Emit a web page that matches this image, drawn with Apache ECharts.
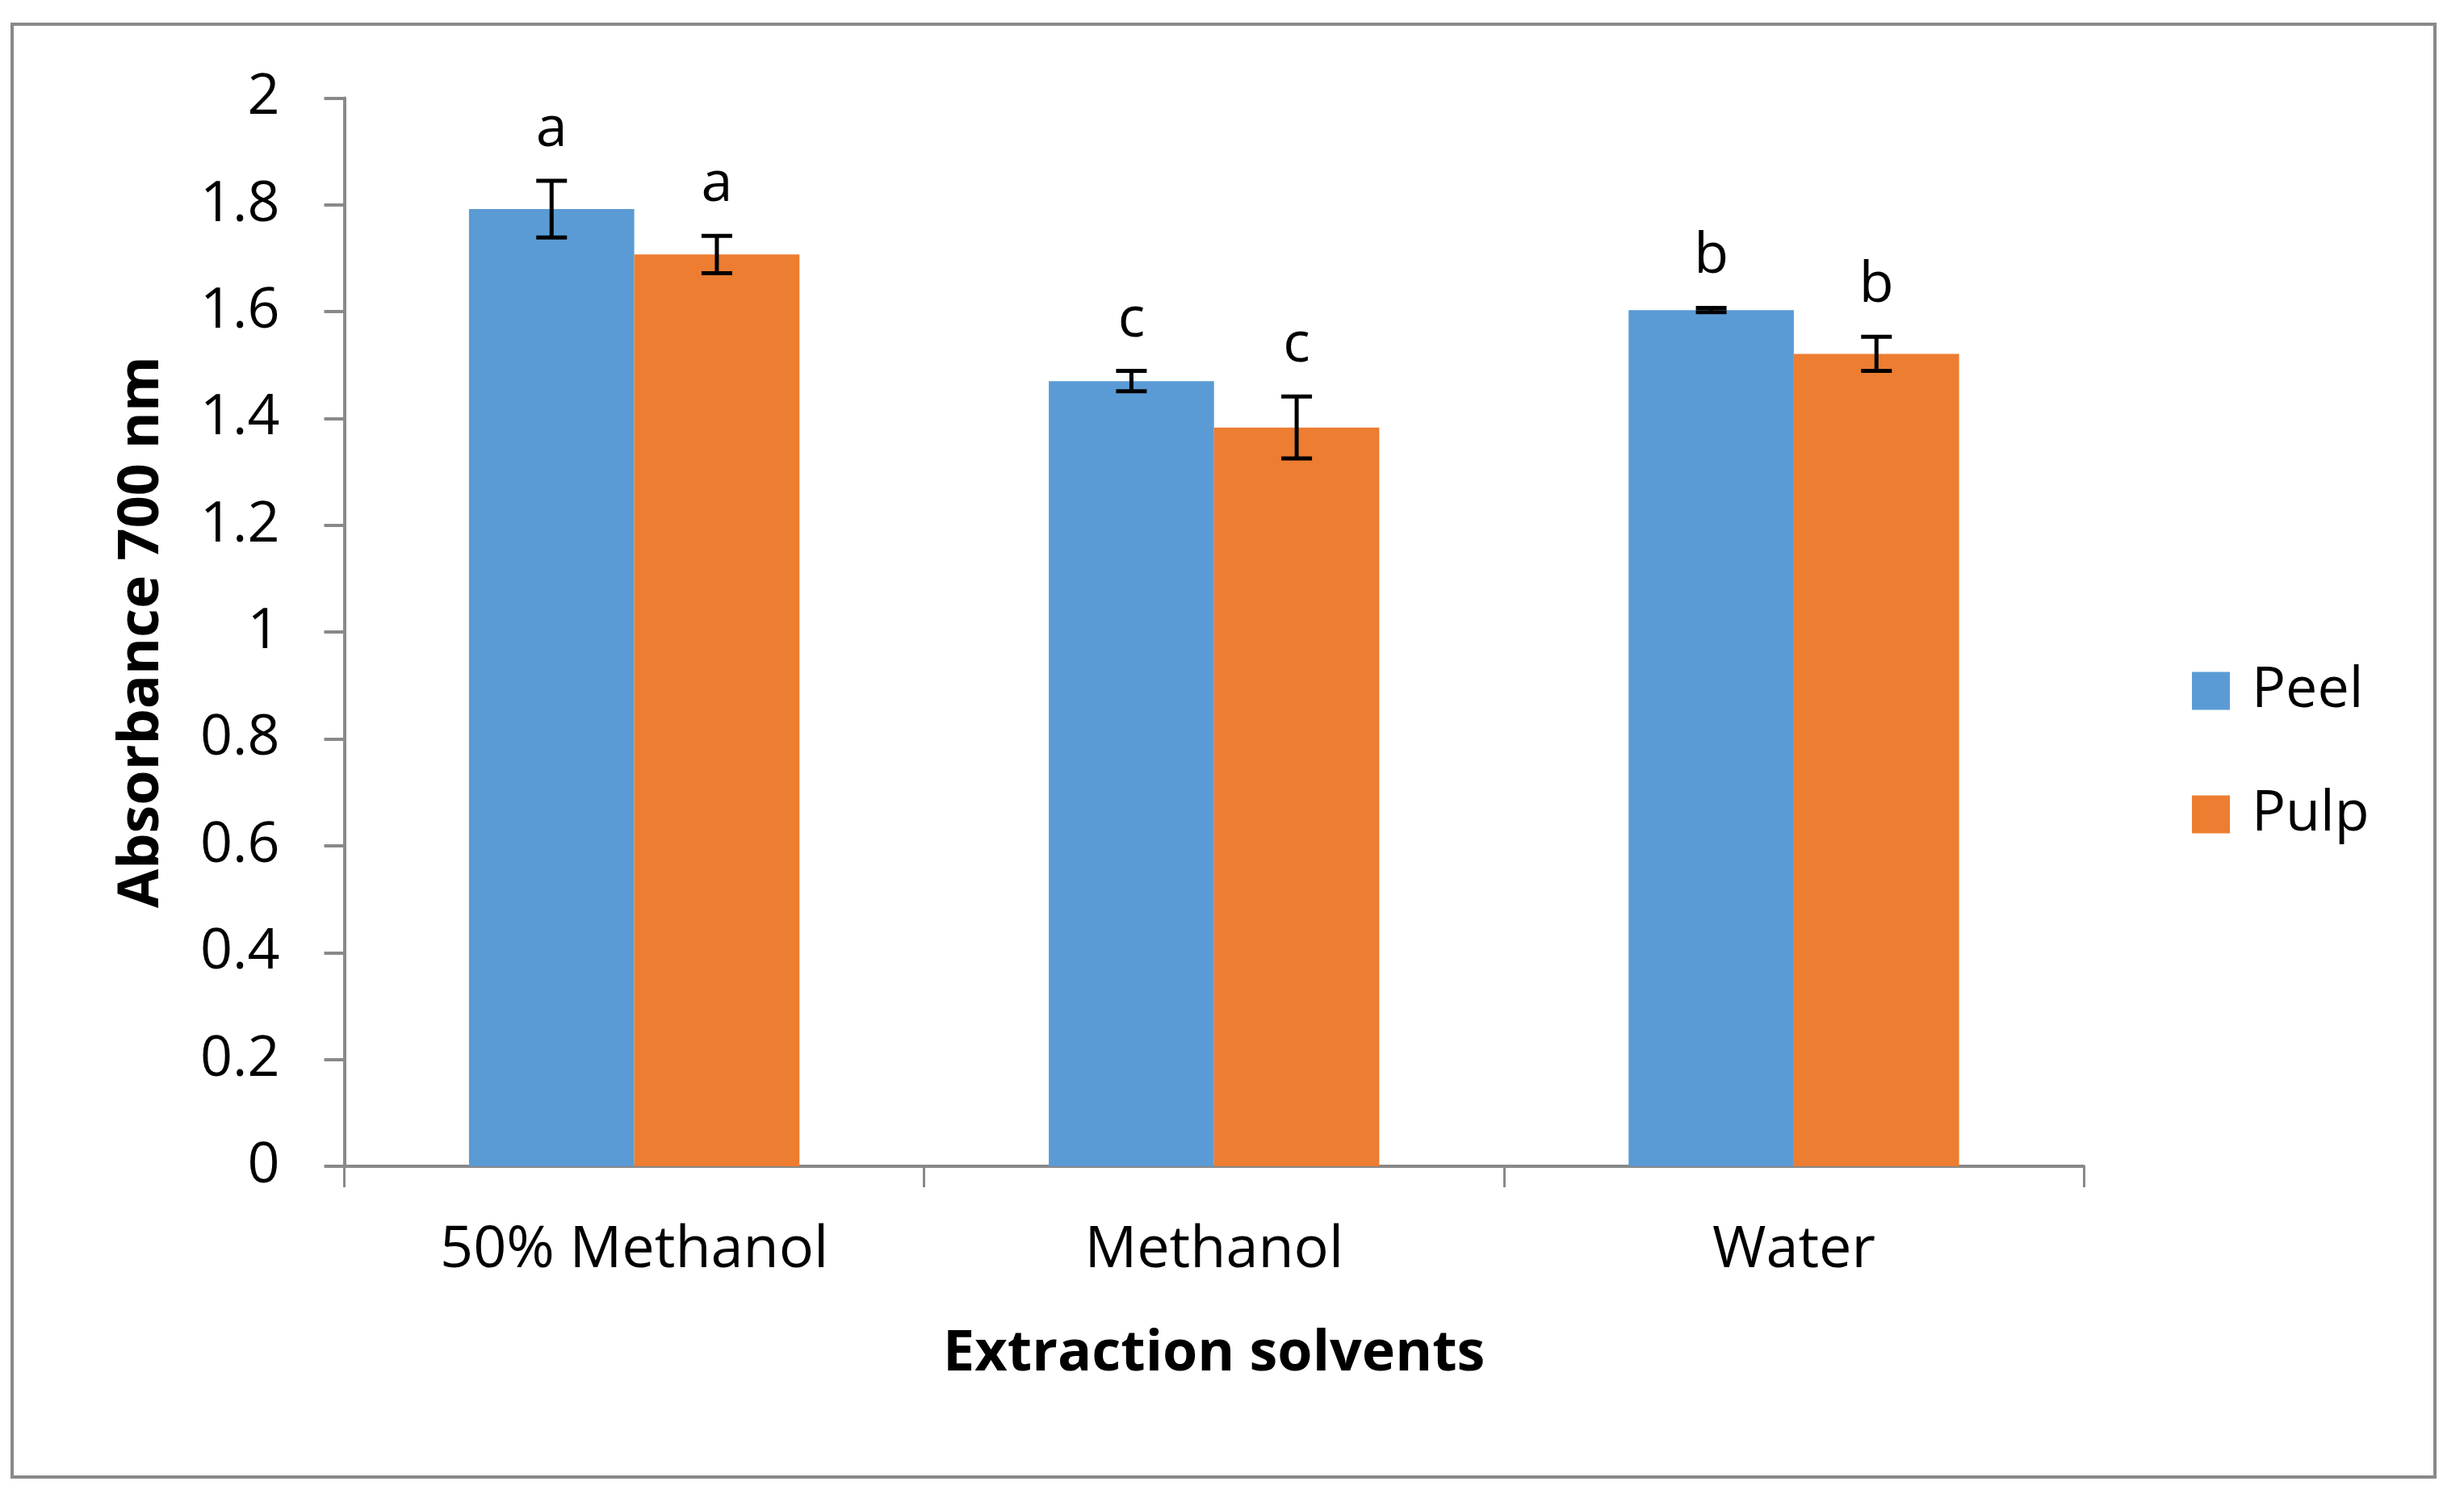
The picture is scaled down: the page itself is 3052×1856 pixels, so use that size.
<!DOCTYPE html>
<html>
<head>
<meta charset="utf-8">
<script src="https://cdn.jsdelivr.net/npm/echarts@6/dist/echarts.min.js"></script>
<style>
html,body{margin:0;padding:0;background:#fff;}
#chart{width:3052px;height:1856px;}
</style>
</head>
<body>
<div id="chart"></div>
<script>
// ---- data ----
const categories = ['50% Methanol', 'Methanol', 'Water'];
const seriesNames = ['Peel', 'Pulp'];
const peelValues = [1.792, 1.470, 1.603];
const pulpValues = [1.707, 1.383, 1.521];
const peelErrors = [0.053, 0.019, 0.004];
const pulpErrors = [0.035, 0.058, 0.032];
const peelLetters = ['a', 'c', 'b'];
const pulpLetters = ['a', 'c', 'b'];
const yTicks = { min: 0, max: 2, interval: 0.2 };

const FONT = '"Open Sans", "Noto Sans", sans-serif';
const FS = 70;
const GRAY = '#898989';
const BAR_CAT_GAP = 0.43;

function errorSeries(values, errors, letters, side) {
  return {
    type: 'custom',
    z: 10,
    silent: true,
    data: values.map((v, i) => [i, v, errors[i]]),
    encode: { x: 0, y: 1 },
    renderItem: function (params, api) {
      const idx = api.value(0), v = api.value(1), e = api.value(2);
      const band = api.size([1, 0])[0];
      const bw = band * (1 - BAR_CAT_GAP) / 2;
      const base = api.coord([idx, v]);
      const cx = base[0] + side * bw / 2;
      const hi = api.coord([idx, v + e])[1];
      const lo = api.coord([idx, v - e])[1];
      const cap = 19;
      const st = { stroke: '#000', lineWidth: 5 };
      return {
        type: 'group',
        children: [
          { type: 'line', shape: { x1: cx, y1: hi, x2: cx, y2: lo }, style: st },
          { type: 'line', shape: { x1: cx - cap, y1: hi, x2: cx + cap, y2: hi }, style: st },
          { type: 'line', shape: { x1: cx - cap, y1: lo, x2: cx + cap, y2: lo }, style: st },
          { type: 'text', x: cx, y: hi - 28,
            style: { text: letters[params.dataIndex], fill: '#000', font: FS + 'px ' + FONT,
                     align: 'center', verticalAlign: 'bottom' } }
        ]
      };
    }
  };
}

const chart = echarts.init(document.getElementById('chart'), null, { renderer: 'canvas' });
chart.setOption({
  backgroundColor: '#fff',
  animation: false,
  textStyle: { fontFamily: FONT, color: '#000' },
  graphic: [{
    type: 'rect', shape: { x: 15, y: 30, width: 3001, height: 1800 },
    style: { fill: 'none', stroke: GRAY, lineWidth: 4 }, z: 0, silent: true
  }],
  grid: { left: 426.5, right: 471, top: 121.4, bottom: 411, containLabel: false },
  legend: {
    orient: 'vertical', left: 2715, top: 821, padding: 0,
    itemWidth: 47, itemHeight: 47, itemGap: 83, icon: 'rect',
    data: seriesNames,
    textStyle: { fontSize: FS, fontFamily: FONT, color: '#000', padding: [0, 0, 0, 22] }
  },
  xAxis: {
    type: 'category', data: categories,
    axisLine: { show: true, lineStyle: { color: GRAY, width: 4 } },
    axisTick: { show: true, length: 26, lineStyle: { color: GRAY, width: 3 } },
    axisLabel: { fontSize: 72, fontFamily: FONT, color: '#000', margin: 68 },
    name: 'Extraction solvents', nameLocation: 'middle', nameGap: 198,
    nameTextStyle: { fontSize: FS, fontWeight: 'bold', fontFamily: FONT, color: '#000' }
  },
  yAxis: {
    type: 'value', min: yTicks.min, max: yTicks.max, interval: yTicks.interval,
    axisLine: { show: true, lineStyle: { color: GRAY, width: 4 } },
    axisTick: { show: true, length: 25, lineStyle: { color: GRAY, width: 4 } },
    splitLine: { show: false },
    axisLabel: { fontSize: FS, fontFamily: FONT, color: '#000', margin: 80 },
    name: 'Absorbance 700 nm', nameLocation: 'middle', nameGap: 215,
    nameTextStyle: { fontSize: FS, fontWeight: 'bold', fontFamily: FONT, color: '#000' }
  },
  series: [
    { name: seriesNames[0], type: 'bar', data: peelValues, barGap: '0%', barCategoryGap: '43%',
      itemStyle: { color: '#5B9BD5' } },
    { name: seriesNames[1], type: 'bar', data: pulpValues, barGap: '0%', barCategoryGap: '43%',
      itemStyle: { color: '#ED7D31' } },
    errorSeries(peelValues, peelErrors, peelLetters, -1),
    errorSeries(pulpValues, pulpErrors, pulpLetters, 1)
  ]
});
</script>
</body>
</html>
